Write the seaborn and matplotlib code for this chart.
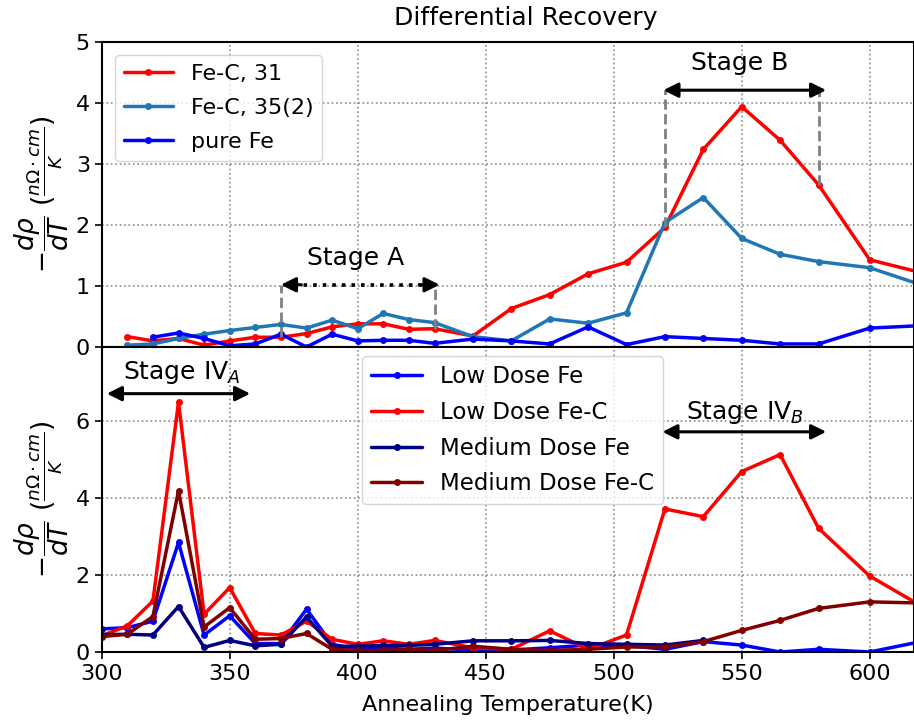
import numpy as np
import pandas as pd
import matplotlib
matplotlib.use("Agg")
import matplotlib.pyplot as plt
import seaborn as sns

# ---------------- data ----------------
T_top = [310, 320, 330, 340, 350, 360, 370, 380, 390, 400, 410, 420, 430,
         445, 460, 475, 490, 505, 520, 535, 550, 565, 580, 600, 620]
fec31 = [0.17, 0.10, 0.14, 0.03, 0.10, 0.16, 0.16, 0.22, 0.33, 0.38, 0.38, 0.29, 0.30,
         0.18, 0.63, 0.86, 1.20, 1.39, 1.96, 3.24, 3.94, 3.39, 2.66, 1.43, 1.22]
fec35 = [0.03, 0.05, 0.14, 0.21, 0.27, 0.32, 0.37, 0.31, 0.44, 0.30, 0.55, 0.45, 0.40,
         0.17, 0.10, 0.46, 0.39, 0.56, 2.04, 2.45, 1.78, 1.52, 1.40, 1.30, 1.02]
T_pure = T_top[1:]
pure_fe = [0.16, 0.23, 0.14, 0.02, 0.05, 0.21, 0.00, 0.21, 0.10, 0.11, 0.11, 0.06,
           0.13, 0.10, 0.05, 0.33, 0.04, 0.17, 0.14, 0.11, 0.05, 0.05, 0.31, 0.35]

T_bot = [300, 310, 320, 330, 340, 350, 360, 370, 380, 390, 400, 410, 420, 430,
         445, 460, 475, 490, 505, 520, 535, 550, 565, 580, 600, 620]
low_fe = [0.60, 0.63, 0.80, 2.84, 0.44, 0.94, 0.22, 0.22, 1.11, 0.20, 0.07, 0.10, 0.07, 0.10,
          0.05, 0.05, 0.11, 0.18, 0.17, 0.07, 0.27, 0.18, 0.00, 0.07, 0.00, 0.27]
low_fec = [0.42, 0.68, 1.32, 6.48, 0.98, 1.67, 0.48, 0.44, 0.80, 0.33, 0.20, 0.29, 0.20, 0.30,
           0.11, 0.07, 0.55, 0.07, 0.44, 3.71, 3.51, 4.68, 5.12, 3.21, 1.97, 1.20]
T_med_fe = T_bot[:21]
med_fe = [0.45, 0.46, 0.44, 1.18, 0.12, 0.30, 0.16, 0.20, 0.91, 0.15, 0.15, 0.17, 0.17, 0.20,
          0.29, 0.29, 0.30, 0.22, 0.20, 0.18, 0.30]
med_fec = [0.40, 0.46, 0.92, 4.18, 0.65, 1.15, 0.33, 0.35, 0.48, 0.07, 0.04, 0.04, 0.07, 0.04,
           0.15, 0.07, 0.04, 0.07, 0.13, 0.13, 0.27, 0.56, 0.82, 1.13, 1.30, 1.27]

top_labels = ["Fe-C, 31", "Fe-C, 35(2)", "pure Fe"]
top_colors = ["#ff0000", "#1f77b4", "#0000ff"]
bot_labels = ["Low Dose Fe", "Low Dose Fe-C", "Medium Dose Fe", "Medium Dose Fe-C"]
bot_colors = ["#0000ff", "#ff0000", "#000080", "#800000"]

# ---------------- style ----------------
sns.set_style("ticks")
plt.rcParams['font.family'] = ['DejaVu Sans']
plt.rcParams['mathtext.fontset'] = 'dejavusans'
for k in ('text.color', 'axes.labelcolor', 'xtick.color', 'ytick.color'):
    plt.rcParams[k] = 'black'

W, H = 914, 727
fig = plt.figure(figsize=(W / 100, H / 100), dpi=100)
left = 101.7 / W
right = 914 / W
ax1 = fig.add_axes([left, 1 - 347 / H, right - left, (347 - 42) / H])
ax2 = fig.add_axes([left, 1 - 652 / H, right - left, (652 - 347) / H], sharex=ax1)

LW = 2.5
MS = 5

def draw(ax, xs, ys, color, label):
    sns.lineplot(x=xs, y=ys, ax=ax, color=color, marker='o', markersize=MS,
                 markeredgewidth=0, linewidth=LW, label=label, sort=False,
                 estimator=None)

draw(ax1, T_top, fec31, top_colors[0], top_labels[0])
draw(ax1, T_top, fec35, top_colors[1], top_labels[1])
draw(ax1, T_pure, pure_fe, top_colors[2], top_labels[2])

draw(ax2, T_bot, low_fe, bot_colors[0], bot_labels[0])
draw(ax2, T_bot, low_fec, bot_colors[1], bot_labels[1])
draw(ax2, T_med_fe, med_fe, bot_colors[2], bot_labels[2])
draw(ax2, T_bot, med_fec, bot_colors[3], bot_labels[3])

for ax in (ax1, ax2):
    ax.grid(True, linestyle=':', color='gray', linewidth=1.2, alpha=0.9)
    ax.tick_params(labelsize=16, length=5, width=1.2, direction='out',
                   colors='black')
    for s in ax.spines.values():
        s.set_linewidth(1.5)
        s.set_color('black')
    ax.set_xlabel('')

ax1.set_xlim(300, 617.3)
ax1.set_ylim(0, 5)
ax1.set_yticks([0, 1, 2, 3, 4, 5])
ax2.set_ylim(0, 7.91)
ax2.set_yticks([0, 2, 4, 6])
ax2.set_xticks([300, 350, 400, 450, 500, 550, 600])
plt.setp(ax1.get_xticklabels(), visible=False)
ax1.tick_params(axis='x', length=0)

ylab = r'$-\dfrac{d\rho}{dT}$ $(\frac{n\Omega\cdot cm}{K})$'
ax1.set_ylabel(ylab, fontsize=19)
ax2.set_ylabel(ylab, fontsize=19)
ax1.yaxis.set_label_coords(-0.038, 0.5)
ax2.yaxis.set_label_coords(-0.038, 0.5)
ax2.set_xlabel('Annealing Temperature(K)', fontsize=16, labelpad=8)

fig.text(526 / W, 1 - 18 / H, 'Differential Recovery', fontsize=18,
         ha='center', va='center')

leg1 = ax1.legend(loc='upper left', fontsize=16, handlelength=2.2,
                  labelspacing=0.62, borderaxespad=0.6)
leg2 = ax2.legend(loc='upper center', fontsize=16.5, handlelength=2.2,
                  labelspacing=0.55, borderaxespad=0.4,
                  bbox_to_anchor=(0.506, 1.0))

# ---------------- annotations ----------------
head = dict(arrowstyle='-|>', color='black', lw=2.2, shrinkA=0, shrinkB=0,
            mutation_scale=22)
arrow = dict(arrowstyle='<|-|>', color='black', lw=2.2, shrinkA=0, shrinkB=0,
             mutation_scale=22)
r31 = dict(zip(T_top, fec31))

# Stage A: dotted shaft with solid heads
ax1.plot([375, 427], [1.02, 1.02], ':', color='black', lw=2.6)
ax1.annotate('', xy=(370, 1.02), xytext=(378, 1.02), arrowprops=head)
ax1.annotate('', xy=(432, 1.02), xytext=(424, 1.02), arrowprops=head)
ax1.plot([370, 370], [r31[370], 1.02], '--', color='gray', lw=2)
ax1.plot([430, 430], [r31[430], 1.02], '--', color='gray', lw=2)
ax1.text(399, 1.46, 'Stage A', fontsize=18, ha='center', va='center')

ax1.annotate('', xy=(519.4, 4.21), xytext=(583, 4.21), arrowprops=arrow)
ax1.plot([520, 520], [r31[520], 4.21], '--', color='gray', lw=2)
ax1.plot([580, 580], [r31[580], 4.21], '--', color='gray', lw=2)
ax1.text(549.2, 4.66, 'Stage B', fontsize=18, ha='center', va='center')

ax2.annotate('', xy=(302, 6.7), xytext=(358, 6.7), arrowprops=arrow)
ax2.text(331.2, 7.26, r'Stage IV$_A$', fontsize=18, ha='center', va='center')

ax2.annotate('', xy=(519, 5.71), xytext=(583, 5.71), arrowprops=arrow)
ax2.text(551.2, 6.22, r'Stage IV$_B$', fontsize=18, ha='center', va='center')

fig.savefig('out.png', dpi=100)
